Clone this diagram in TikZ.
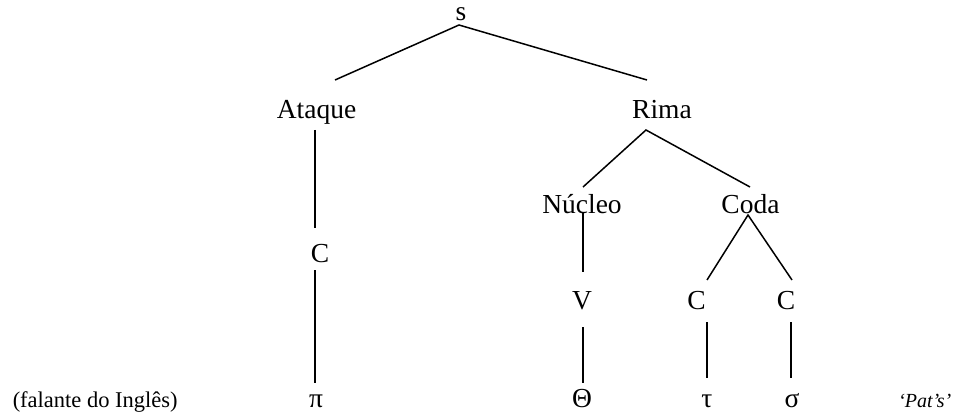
\documentclass[tikz,border=0pt]{standalone}
\usepackage{fontspec}
\setmainfont{Liberation Serif}
\usepackage{tikz}
\usetikzlibrary{calc}

\begin{document}
\begin{tikzpicture}[x=1pt,y=-1pt,line width=1.5pt,
    every node/.style={inner sep=0pt,anchor=base,font=\fontsize{27.5}{32}\selectfont},
    gloss/.style={font=\fontsize{22.5}{26}\selectfont},
    word/.style={font=\fontsize{20}{24}\selectfont\itshape}]
\useasboundingbox (0,0) rectangle (959,417);
%the syllable and its two halves
    \node (s) at (461,21) {s};
    \node (ataque) at (316.5,119) {Ataque};
    \node (rima) at (662,119) {Rima};
%the rhyme
    \node (nucleo) at (582,214) {Núcleo};
    \node (coda) at (750.5,214) {Coda};
%the skeleton
    \node (c1) at (320,262) {C};
    \node (v) at (582,309) {V};
    \node (c2) at (696.5,309) {C};
    \node (c3) at (786,309) {C};
%the segments
    \node (pi) at (316,407) {π};
    \node (theta) at (582,407) {Θ};
    \node (tau) at (707,407) {τ};
    \node (sigma) at (792,407) {σ};
%the glosses
    \node[gloss,anchor=base west] (falante) at (12,407) {(falante do Inglês)};
    \node[word,anchor=base east] (pats) at (952,407) {‘Pat’s’};

%the branches
    \draw ($(ataque.base)+(18.5,-39)$) -- ($(s.base)+(-2,4)$) -- ($(rima.base)+(-15,-39)$);
    \draw ($(ataque.base)+(-1.5,11)$) -- ($(c1.base)+(-5,-34)$);
    \draw ($(c1.base)+(-5,8)$) -- ($(pi.base)+(-1,-24)$);
    \draw ($(nucleo.base)+(1,-27)$) -- ($(rima.base)+(-16,11)$) -- ($(coda.base)+(-0.5,-27)$);
    \draw ($(nucleo.base)+(1,-1)$) -- ($(v.base)+(1,-37)$);
    \draw ($(c2.base)+(10.5,-29)$) -- ($(coda.base)+(-2.5,1)$) -- ($(c3.base)+(6,-29)$);
%down to the segments
    \draw ($(v.base)+(1,18)$) -- ($(theta.base)+(1,-24)$);
    \draw ($(c2.base)+(10.5,13)$) -- ($(tau.base)+(0,-29)$);
    \draw ($(c3.base)+(5,13)$) -- ($(sigma.base)+(-1,-29)$);
\end{tikzpicture}
\end{document}
